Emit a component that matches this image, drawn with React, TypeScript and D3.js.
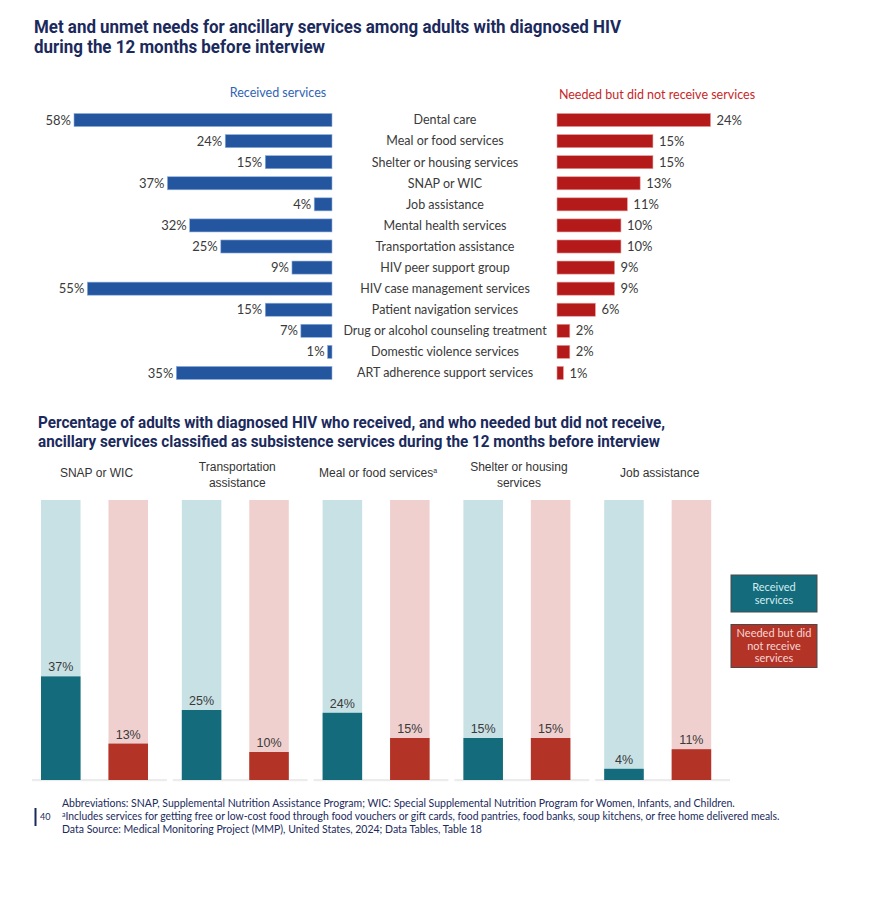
import React from "react";
import * as d3 from "d3";

const categories = [
  "Dental care",
  "Meal or food services",
  "Shelter or housing services",
  "SNAP or WIC",
  "Job assistance",
  "Mental health services",
  "Transportation assistance",
  "HIV peer support group",
  "HIV case management services",
  "Patient navigation services",
  "Drug or alcohol counseling treatment",
  "Domestic violence services",
  "ART adherence support services",
];
const receivedPct = [58, 24, 15, 37, 4, 32, 25, 9, 55, 15, 7, 1, 35];
const neededPct = [24, 15, 15, 13, 11, 10, 10, 9, 9, 6, 2, 2, 1];

const subGroups = ["SNAP or WIC", "Transportation assistance", "Meal or food services", "Shelter or housing services", "Job assistance"];
const subGroupLines = [["SNAP or WIC"], ["Transportation", "assistance"], ["Meal or food services"], ["Shelter or housing", "services"], ["Job assistance"]];
const subGroupNote = ["", "", "a", "", ""];
const subReceived = [37, 25, 24, 15, 4];
const subNeeded = [13, 10, 15, 15, 11];
const seriesKeys = ["received", "needed"];

const footLines = [
  "Abbreviations: SNAP, Supplemental Nutrition Assistance Program; WIC: Special Supplemental Nutrition Program for Women, Infants, and Children.",
  "Includes services for getting free or low-cost food through food vouchers or gift cards, food pantries, food banks, soup kitchens, or free home delivered meals.",
  "Data Source: Medical Monitoring Project (MMP), United States, 2024; Data Tables, Table 18",
];

const NAVY = "#1b2a5c";
const BLUE = "#2456a0";
const RED = "#b41a1a";
const TEAL = "#136b7c";
const TEAL_L = "#c7e1e5";
const BRICK = "#b33327";
const PINK_L = "#f0d0ce";
const LBL = "#3a3a3a";
const SANS = "Lato, 'Noto Sans', sans-serif";
const ARIAL = "'Liberation Sans', Arial, sans-serif";

export default function App() {
  const yTop = d3.scaleBand<string>().domain(categories).range([109.5, 383.5]).paddingInner(0.38).paddingOuter(0.19);
  const xL = d3.scaleLinear().domain([0, d3.max(receivedPct) as number]).range([332, 74]);
  const xR = d3.scaleLinear().domain([0, d3.max(neededPct) as number]).range([557, 710.5]);

  const x0 = d3.scaleBand<string>().domain(subGroups).range([32, 730]).paddingInner(0.0426);
  const x1 = d3.scaleBand<string>().domain(seriesKeys).range([0, 125]).paddingInner(0.414).paddingOuter(0.1335);
  const yB = d3.scaleLinear().domain([0, 100]).range([780, 500]);

  const bw = yTop.bandwidth();

  return (
    <svg width={888} height={908} style={{ position: "absolute", left: 0, top: 0, background: "#fff" }}>
      {/* Title 1 */}
      <text fontFamily="Roboto, sans-serif" fontWeight={700} fontSize={18} fill={NAVY}>
        <tspan x={34} y={33} textLength={587} lengthAdjust="spacingAndGlyphs">Met and unmet needs for ancillary services among adults with diagnosed HIV</tspan>
        <tspan x={34} y={53} textLength={291} lengthAdjust="spacingAndGlyphs">during the 12 months before interview</tspan>
      </text>

      {/* Top headers */}
      <text x={278} y={97} textAnchor="middle" fontFamily={SANS} fontSize={12.5} fill="#2f63b3">Received services</text>
      <text x={657} y={99} textAnchor="middle" fontFamily={SANS} fontSize={12.5} fill="#c62828">Needed but did not receive services</text>

      {categories.map((c, i) => {
        const y = yTop(c) as number;
        const cy = y + bw / 2;
        return (
          <g key={c}>
            <rect x={xL(receivedPct[i])} y={y} width={xL(0) - xL(receivedPct[i])} height={bw} fill={BLUE} stroke="#8fb0de" strokeWidth={0.6} />
            <text x={xL(receivedPct[i]) - 3} y={cy} dy="0.35em" textAnchor="end" fontFamily={SANS} fontSize={13} fill={LBL}>{receivedPct[i]}%</text>
            <text x={445} y={cy} dy="0.35em" textAnchor="middle" fontFamily={SANS} fontSize={12.5} fill={LBL}>{c}</text>
            <rect x={xR(0)} y={y} width={xR(neededPct[i]) - xR(0)} height={bw} fill={RED} stroke="#e79a9a" strokeWidth={0.6} />
            <text x={xR(neededPct[i]) + 6} y={cy} dy="0.35em" fontFamily={SANS} fontSize={13} fill={LBL}>{neededPct[i]}%</text>
          </g>
        );
      })}

      {/* Title 2 */}
      <text fontFamily="Roboto, sans-serif" fontWeight={700} fontSize={16} fill={NAVY}>
        <tspan x={38} y={428} textLength={627} lengthAdjust="spacingAndGlyphs">Percentage of adults with diagnosed HIV who received, and who needed but did not receive,</tspan>
        <tspan x={38} y={447} textLength={622} lengthAdjust="spacingAndGlyphs">ancillary services classified as subsistence services during the 12 months before interview</tspan>
      </text>

      {/* Bottom grouped bars */}
      {subGroups.map((g, i) => {
        const gx = x0(g) as number;
        const rx = gx + (x1("received") as number);
        const nx = gx + (x1("needed") as number);
        const w = x1.bandwidth();
        const center = (rx + nx + w) / 2 + 2;
        const lines = subGroupLines[i];
        const baseY = lines.length === 1 ? 477 : 471;
        return (
          <g key={g}>
            {lines.map((ln, j) => (
              <text key={j} x={center} y={baseY + j * 16} textAnchor="middle" fontFamily={ARIAL} fontSize={12} fill="#333">
                {ln}
                {subGroupNote[i] && j === lines.length - 1 ? (
                  <tspan fontSize={7} dy={-4}>{subGroupNote[i]}</tspan>
                ) : null}
              </text>
            ))}
            <rect x={gx} y={779} width={x0.bandwidth()} height={2.2} fill="#ececec" />
            <rect x={rx} y={yB(100)} width={w} height={yB(0) - yB(100)} fill={TEAL_L} />
            <rect x={nx} y={yB(100)} width={w} height={yB(0) - yB(100)} fill={PINK_L} />
            <rect x={rx} y={yB(subReceived[i])} width={w} height={yB(0) - yB(subReceived[i])} fill={TEAL} />
            <rect x={nx} y={yB(subNeeded[i])} width={w} height={yB(0) - yB(subNeeded[i])} fill={BRICK} />
            <text x={rx + w / 2} y={yB(subReceived[i]) - 5} textAnchor="middle" fontFamily={ARIAL} fontSize={12.5} fill={LBL}>{subReceived[i]}%</text>
            <text x={nx + w / 2} y={yB(subNeeded[i]) - 5} textAnchor="middle" fontFamily={ARIAL} fontSize={12.5} fill={LBL}>{subNeeded[i]}%</text>
          </g>
        );
      })}

      {/* Legend */}
      <rect x={731} y={575} width={86} height={37} fill={TEAL} stroke="#4a4a4a" strokeWidth={1} />
      <text textAnchor="middle" fontFamily={SANS} fontSize={11} fill="#d4ecef">
        <tspan x={774} y={591}>Received</tspan>
        <tspan x={774} y={604}>services</tspan>
      </text>
      <rect x={731} y={624.5} width={86} height={43} fill={BRICK} stroke="#4a4a4a" strokeWidth={1} />
      <text textAnchor="middle" fontFamily={SANS} fontSize={11} fill="#f6d6d2">
        <tspan x={774} y={637}>Needed but did</tspan>
        <tspan x={774} y={649.5}>not receive</tspan>
        <tspan x={774} y={662}>services</tspan>
      </text>

      {/* Footer */}
      <rect x={34.5} y={808} width={2} height={18} fill={NAVY} />
      <text x={40} y={820} fontFamily={SANS} fontSize={9} fill={NAVY}>40</text>
      <text fontFamily={SANS} fontSize={10.5} fill={NAVY}>
        <tspan x={62} y={807}>{footLines[0]}</tspan>
        <tspan x={62} y={820}><tspan fontSize={7} dy={-3}>a</tspan><tspan dy={3} textLength={714} lengthAdjust="spacingAndGlyphs">{footLines[1]}</tspan></tspan>
        <tspan x={62} y={833}>{footLines[2]}</tspan>
      </text>
    </svg>
  );
}
